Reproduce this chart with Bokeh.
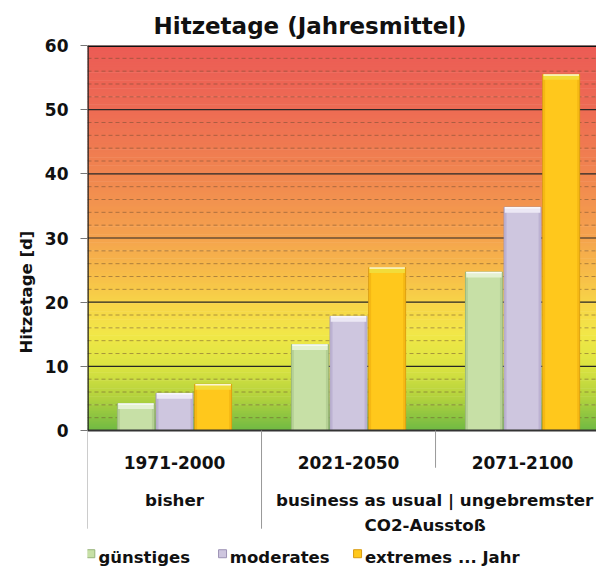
import numpy as np
from bokeh.plotting import figure
from bokeh.models import Range1d, FixedTicker, Title
from bokeh.core.properties import value
from bokeh.embed import file_html
from bokeh.resources import INLINE

# ---- data ----
periods = ["1971-2000", "2021-2050", "2071-2100"]
scenario_row = ["bisher", "business as usual | ungebremster", "CO2-Ausstoß"]
series_names = ["günstiges", "moderates", "extremes ... Jahr"]
guenstig = [4.2, 13.4, 24.7]
moderat = [5.8, 17.8, 34.8]
extrem = [7.2, 25.4, 55.5]
y_ticks = [0, 10, 20, 30, 40, 50, 60]
title_text = "Hitzetage (Jahresmittel)"
y_label = "Hitzetage [d]"

FONT = "DejaVu Sans"
XMAX = 2.925
YMIN = -21.19

p = figure(width=596, height=566, x_range=Range1d(0, XMAX), y_range=Range1d(YMIN, 60),
           output_backend="svg", toolbar_location=None, x_axis_location=None,
           min_border_left=87, min_border_right=0, min_border_top=45, min_border_bottom=0)
p.outline_line_color = None
p.background_fill_color = "white"
p.border_fill_color = "white"
p.xgrid.visible = False
p.ygrid.visible = False

# title
p.title.text = title_text
p.title.align = "left"
p.title.offset = 66
p.title.vertical_align = "bottom"
p.title.standoff = 14
p.title.text_font = FONT
p.title.text_font_style = "bold"
p.title.text_font_size = "23px"
p.title.text_color = "#111111"

ax = p.yaxis[0]
ax.ticker = FixedTicker(ticks=y_ticks)
ax.axis_line_color = None
ax.major_tick_out = 7
ax.major_tick_in = 0
ax.minor_tick_out = 0
ax.minor_tick_in = 0
ax.major_tick_line_color = "#777777"
ax.major_label_standoff = 12
ax.major_label_text_font = FONT
ax.major_label_text_font_style = "bold"
ax.major_label_text_font_size = "17px"
ax.major_label_text_color = "#111111"

# y axis label as a left-side title (so it can sit off-centre like the original)
p.add_layout(Title(text=y_label, align="left", offset=213, vertical_align="middle",
                   text_font=FONT, text_font_style="bold", text_font_size="16.5px",
                   text_color="#111111"), "left")

# ---- gradient background (0..60) ----
stops_y = [0, 5, 10, 15, 20, 25, 30, 40, 50, 60]
stops_r = [112, 178, 220, 242, 248, 247, 245, 241, 238, 236]
stops_g = [186, 210, 228, 232, 212, 186, 164, 134, 108, 92]
stops_b = [68, 62, 66, 72, 72, 74, 78, 80, 84, 86]
step = 0.25
bot = np.arange(0, 60, step)
mid = bot + step / 2
cols = ["#%02x%02x%02x" % (int(np.interp(m, stops_y, stops_r)),
                           int(np.interp(m, stops_y, stops_g)),
                           int(np.interp(m, stops_y, stops_b))) for m in mid]
p.quad(left=0, right=XMAX, bottom=bot, top=np.minimum(bot + step * 1.4, 60),
       fill_color=cols, line_color=None)

# ---- grid lines ----
minor = [v for v in range(2, 60, 2) if v % 10 != 0]
p.segment(x0=0, x1=XMAX, y0=minor, y1=minor, line_color="#6a4a30", line_alpha=0.5,
          line_width=1, line_dash="4 3")
major = [v for v in y_ticks if 0 < v < 60]
p.segment(x0=0, x1=XMAX, y0=major, y1=major, line_color="#262626", line_width=1.2)

# ---- bars ----
centers = np.arange(len(periods)) + 0.5
offsets = [-0.222, 0.0, 0.222]
bw = 0.212
series = [guenstig, moderat, extrem]
base_cols = ["#c7e0a6", "#cec6df", "#ffc81c"]
edge_cols = ["#97b47a", "#9d93b5", "#d89a10"]
side_cols = ["#b5d095", "#bcb2d2", "#f5b814"]
cap_cols = ["#e4f1d2", "#ece8f5", "#f2dc3a"]
for vals, off, bc, ec, sc, cc in zip(series, offsets, base_cols, edge_cols, side_cols, cap_cols):
    xs = centers + off
    left = xs - bw / 2
    right = xs + bw / 2
    top = np.array(vals)
    p.quad(left=left, right=right, bottom=0, top=top, fill_color=bc, line_color=ec, line_width=1)
    p.quad(left=left + 0.002, right=left + 0.014, bottom=0, top=top, fill_color=sc, line_color=None)
    p.quad(left=right - 0.014, right=right - 0.002, bottom=0, top=top, fill_color=sc, line_color=None)
    p.quad(left=left + 0.004, right=right - 0.004, bottom=top - 0.85, top=top,
           fill_color=cc, line_color=None)
    p.segment(x0=left + 0.004, x1=right - 0.004, y0=top - 0.08, y1=top - 0.08,
              line_color="white", line_alpha=0.8, line_width=1.5)

# ---- frame lines ----
p.segment(x0=0, x1=XMAX, y0=60, y1=60, line_color="#111111", line_width=3)
p.segment(x0=0, x1=XMAX, y0=0, y1=0, line_color="#333333", line_width=2)
p.segment(x0=0, x1=0, y0=0, y1=60, line_color="#222222", line_width=2.5)

# category separator lines below axis
p.segment(x0=[0, 1, 2], x1=[0, 1, 2], y0=[0, 0, 0], y1=[-15.3, -15.3, -5.8],
          line_color="#999999", line_width=1)

# ---- category labels ----
p.text(x=centers, y=[-4.99] * 3, text=periods, text_align="center", text_baseline="alphabetic",
       text_font=value(FONT), text_font_style="bold", text_font_size="17px", text_color="#111111")
p.text(x=[0.5, 1.995, 1.94], y=[-10.9, -10.9, -14.8], text=scenario_row, text_align="center",
       text_baseline="alphabetic", text_font=value(FONT), text_font_style="bold",
       text_font_size="16.7px", text_color="#111111")

# ---- legend ----
leg_mx = [0.019, 0.776, 1.552]
leg_tx = [0.063, 0.818, 1.594]
p.scatter(x=leg_mx, y=[-19.2] * 3, marker="square", size=8,
          fill_color=base_cols, line_color=edge_cols, line_width=1)
p.text(x=leg_tx, y=[-19.75] * 3, text=series_names, text_align="left", text_baseline="alphabetic",
       text_font=value(FONT), text_font_style="bold", text_font_size="16.5px", text_color="#111111")

open("out.html", "w").write(file_html(p, INLINE))
